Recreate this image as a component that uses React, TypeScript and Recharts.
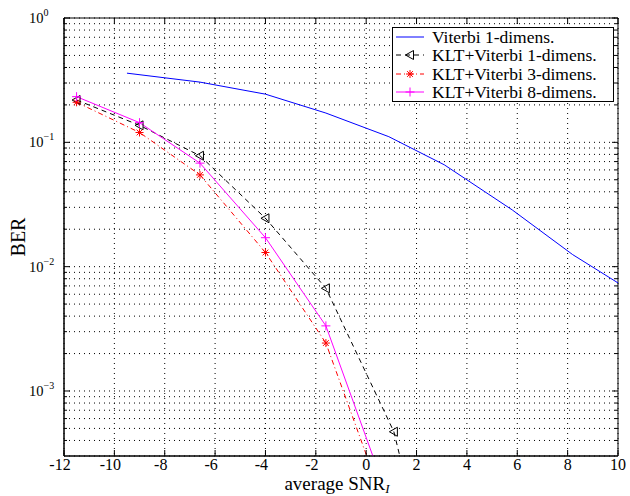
import React from "react";
import { LineChart, Line, XAxis, YAxis, CartesianGrid, ReferenceArea, Legend, Label } from "recharts";

const FONT = "'Liberation Serif', 'Times New Roman', serif";
const W = 630;
const H = 496;
const M = { top: 18, right: 12, bottom: 0, left: 0 };
const Y_AXIS_W = 64;
const X_AXIS_H = 40;
const PLOT_W = W - M.left - M.right - Y_AXIS_W;
const PLOT_H = H - M.top - M.bottom - X_AXIS_H;

// x ticks (average SNR) and y ticks (BER, log decades + minor lines)
const X_TICKS = [-12, -10, -8, -6, -4, -2, 0, 2, 4, 6, 8, 10];
const Y_TICKS = [
  0.0004, 0.0005, 0.0006, 0.0007, 0.0008, 0.0009,
  0.001, 0.002, 0.003, 0.004, 0.005, 0.006, 0.007, 0.008, 0.009,
  0.01, 0.02, 0.03, 0.04, 0.05, 0.06, 0.07, 0.08, 0.09,
  0.1, 0.2, 0.3, 0.4, 0.5, 0.6, 0.7, 0.8, 0.9, 1,
];
const Y_DECADE_LABELS: Record<string, string> = { "1": "0", "0.1": "\u22121", "0.01": "\u22122", "0.001": "\u22123" };

const viterbi1 = [
  { x: -9.5, ber: 0.36 },
  { x: -6.6, ber: 0.305 },
  { x: -4.0, ber: 0.244 },
  { x: -1.6, ber: 0.172 },
  { x: 0.9, ber: 0.111 },
  { x: 3.1, ber: 0.066 },
  { x: 5.8, ber: 0.0286 },
  { x: 8.2, ber: 0.0125 },
  { x: 10, ber: 0.0074 },
];
const kltViterbi1 = [
  { x: -11.5, ber: 0.219 },
  { x: -9, ber: 0.137 },
  { x: -6.6, ber: 0.078 },
  { x: -4, ber: 0.0245 },
  { x: -1.6, ber: 0.0067 },
  { x: 1.1, ber: 0.00047 },
  { x: 2.5, ber: 0.000032 },
];
const kltViterbi3 = [
  { x: -11.5, ber: 0.21 },
  { x: -9, ber: 0.12 },
  { x: -6.6, ber: 0.0547 },
  { x: -4, ber: 0.013 },
  { x: -1.6, ber: 0.00243 },
  { x: 1, ber: 0.000085 },
];
const kltViterbi8 = [
  { x: -11.5, ber: 0.233 },
  { x: -9, ber: 0.144 },
  { x: -6.6, ber: 0.068 },
  { x: -4, ber: 0.0171 },
  { x: -1.6, ber: 0.00334 },
  { x: 1, ber: 0.000116 },
];

function TriLeft({ cx, cy }: any) {
  return <path d={`M${cx - 4.5},${cy} L${cx + 3.5},${cy - 4.5} L${cx + 3.5},${cy + 4.5} Z`} fill="none" stroke="#000" strokeWidth={1} />;
}
function Asterisk({ cx, cy }: any) {
  const r = 4;
  const d = r * 0.72;
  return (
    <g stroke="#ff0000" strokeWidth={1}>
      <line x1={cx - r} y1={cy} x2={cx + r} y2={cy} />
      <line x1={cx} y1={cy - r} x2={cx} y2={cy + r} />
      <line x1={cx - d} y1={cy - d} x2={cx + d} y2={cy + d} />
      <line x1={cx - d} y1={cy + d} x2={cx + d} y2={cy - d} />
    </g>
  );
}
function Plus({ cx, cy }: any) {
  const r = 4.5;
  return (
    <g stroke="#ff00ff" strokeWidth={1}>
      <line x1={cx - r} y1={cy} x2={cx + r} y2={cy} />
      <line x1={cx} y1={cy - r} x2={cx} y2={cy + r} />
    </g>
  );
}

const SERIES = [
  { key: "v1", name: "Viterbi 1-dimens.", data: viterbi1, color: "#0000ff", dash: undefined, Marker: null },
  { key: "k1", name: "KLT+Viterbi 1-dimens.", data: kltViterbi1, color: "#000000", dash: "5 4", Marker: TriLeft },
  { key: "k3", name: "KLT+Viterbi 3-dimens.", data: kltViterbi3, color: "#ff0000", dash: "5 3 1 3", Marker: Asterisk },
  { key: "k8", name: "KLT+Viterbi 8-dimens.", data: kltViterbi8, color: "#ff00ff", dash: undefined, Marker: Plus },
] as const;

function XTick({ x, y, payload }: any) {
  const v = payload.value as number;
  return (
    <g>
      <line x1={x} y1={y} x2={x} y2={y - 6} stroke="#000" />
      <line x1={x} y1={y - PLOT_H} x2={x} y2={y - PLOT_H + 6} stroke="#000" />
      <text x={v < 0 ? x - 4 : x} y={y + 14} textAnchor="middle" fontFamily={FONT} fontSize={16} fill="#000">
        {String(v)}
      </text>
    </g>
  );
}

function YTick({ x, y, payload }: any) {
  const v = payload.value as number;
  const exp = Y_DECADE_LABELS[String(v)];
  const len = exp !== undefined ? 6 : 3;
  return (
    <g>
      <line x1={x} y1={y} x2={x + len} y2={y} stroke="#000" />
      <line x1={x + PLOT_W} y1={y} x2={x + PLOT_W - len} y2={y} stroke="#000" />
      {exp !== undefined && (
        <text x={x - 35} y={y + 5} fontFamily={FONT} fontSize={14.5} fill="#000">
          10
          <tspan dy={-7} fontSize={10}>{exp}</tspan>
        </text>
      )}
    </g>
  );
}

function LegendBox() {
  return (
    <div
      style={{
        border: "1px solid #000",
        background: "#fff",
        padding: "0 6px 0 2px",
        fontFamily: FONT,
        fontSize: 17.5,
        lineHeight: "18.3px",
        color: "#000",
        whiteSpace: "nowrap",
      }}
    >
      {SERIES.map((s) => (
        <div key={s.key} style={{ display: "flex", alignItems: "center", height: 18.3 }}>
          <svg width={32} height={18} style={{ display: "block" }}>
            <line x1={1} x2={29} y1={9} y2={9} stroke={s.color} strokeDasharray={s.dash} />
            {s.Marker ? <s.Marker cx={15} cy={9} /> : null}
          </svg>
          <span style={{ marginLeft: 5 }}>{s.name}</span>
        </div>
      ))}
    </div>
  );
}

export default function App() {
  return (
    <div style={{ position: "absolute", left: 0, top: 0, background: "#fff" }}>
      <LineChart width={W} height={H} margin={M}>
        <CartesianGrid stroke="#000" strokeDasharray="1 4" />
        <XAxis
          type="number"
          dataKey="x"
          domain={[-12, 10]}
          ticks={X_TICKS}
          interval={0}
          height={X_AXIS_H}
          tickSize={0}
          tickMargin={0}
          tickLine={false}
          axisLine={{ stroke: "#000" }}
          tick={<XTick />}
        >
          <Label
            content={() => (
              <text x={337} y={490} textAnchor="middle" fontFamily={FONT} fontSize={19} fill="#000">
                average SNR
                <tspan dy={2.5} fontSize={13} fontStyle="italic">I</tspan>
              </text>
            )}
          />
        </XAxis>
        <YAxis
          type="number"
          scale="log"
          domain={[0.0003, 1]}
          allowDataOverflow
          ticks={Y_TICKS}
          interval={0}
          width={Y_AXIS_W}
          tickSize={0}
          tickMargin={0}
          tickLine={false}
          axisLine={{ stroke: "#000" }}
          tick={<YTick />}
        >
          <Label
            content={() => (
              <text x={18} y={237} transform="rotate(-90 18 237)" textAnchor="middle" dominantBaseline="central" fontFamily={FONT} fontSize={20} fill="#000">
                BER
              </text>
            )}
          />
        </YAxis>
        <ReferenceArea x1={-12} x2={10} y1={0.0003} y2={1} fill="none" stroke="#000" strokeWidth={1} ifOverflow="visible" />
        {SERIES.map((s) => (
          <Line
            key={s.key}
            data={s.data as any}
            dataKey="ber"
            name={s.name}
            type="linear"
            stroke={s.color}
            strokeWidth={1}
            strokeDasharray={s.dash}
            isAnimationActive={false}
            dot={
              s.Marker
                ? (p: any) => {
                    const Mk = s.Marker as any;
                    return <Mk key={`d${s.key}${p.index}`} cx={p.cx} cy={p.cy} />;
                  }
                : false
            }
            activeDot={false}
          />
        ))}
        <Legend
          layout="vertical"
          align="center"
          verticalAlign="middle"
          content={<LegendBox />}
          wrapperStyle={{ left: 392, top: 27, width: 222, height: "auto" }}
        />
      </LineChart>
    </div>
  );
}
